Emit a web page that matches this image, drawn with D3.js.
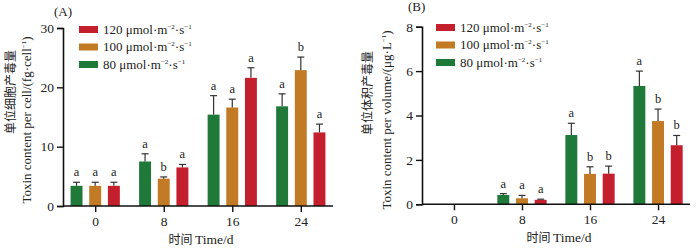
<!DOCTYPE html>
<html>
<head>
  <meta charset="utf-8">
  <script src="https://d3js.org/d3.v7.min.js"></script>
  <style>
    body { margin: 0; background: #fff; }
    text { font-family: "Liberation Serif", "Noto Sans CJK SC", serif; fill: #222; }
    .cjk { font-family: "Noto Sans CJK SC", sans-serif; }
  </style>
</head>
<body>
  <div id="chart"></div>
  <script>
    const days = ["0", "8", "16", "24"];
    const series = ["80", "100", "120"];
    const colors = ["#1f7a3a", "#c27a24", "#c41f2c"];

    // panel A: toxin content per cell (fg/cell)
    const cellMean = {
      "80":  [3.4, 7.5, 15.4, 16.8],
      "100": [3.4, 4.6, 16.6, 22.9],
      "120": [3.4, 6.5, 21.6, 12.4]
    };
    const cellErr = {
      "80":  [0.6, 1.3, 3.2, 2.1],
      "100": [0.6, 0.3, 1.4, 2.2],
      "120": [0.6, 0.5, 1.7, 1.4]
    };
    const cellLetters = {
      "80":  ["a", "a", "a", "a"],
      "100": ["a", "b", "a", "b"],
      "120": ["a", "a", "a", "a"]
    };

    // panel B: toxin content per volume (ug/L)
    const volMean = {
      "80":  [0, 0.42, 3.12, 5.33],
      "100": [0, 0.27, 1.37, 3.75],
      "120": [0, 0.20, 1.38, 2.66]
    };
    const volErr = {
      "80":  [0, 0.06, 0.53, 0.67],
      "100": [0, 0.13, 0.32, 0.54],
      "120": [0, 0.03, 0.34, 0.44]
    };
    const volLetters = {
      "80":  ["", "a", "a", "a"],
      "100": ["", "a", "b", "b"],
      "120": ["", "a", "b", "b"]
    };

    const svg = d3.select("#chart").append("svg")
      .attr("width", 700).attr("height", 249);

    function drawPanel(p) {
      const g = svg.append("g");

      const x = d3.scalePoint().domain(days).range([p.x0, p.x1]).padding(0.47);
      const xs = d3.scaleBand().domain(series).range([-28, 28])
        .paddingInner(0.36).paddingOuter(0.18);
      const y = d3.scaleLinear().domain([0, p.max]).range([p.y0, p.y1]);

      series.forEach((s, si) => {
        const rows = days.map((d, i) => ({ d, v: p.mean[s][i], e: p.err[s][i], l: p.letters[s][i] }));

        g.selectAll(null).data(rows.filter(r => r.v > 0)).enter().append("rect")
          .attr("x", r => x(r.d) + xs(s))
          .attr("width", xs.bandwidth())
          .attr("y", r => y(r.v))
          .attr("height", r => y(0) - y(r.v))
          .attr("fill", colors[si]);

        const eb = g.selectAll(null).data(rows.filter(r => r.e > 0)).enter().append("g")
          .attr("stroke", "#333").attr("stroke-width", 1.2);
        eb.append("line")
          .attr("x1", r => x(r.d) + xs(s) + xs.bandwidth() / 2)
          .attr("x2", r => x(r.d) + xs(s) + xs.bandwidth() / 2)
          .attr("y1", r => y(r.v))
          .attr("y2", r => y(r.v + r.e));
        eb.append("line")
          .attr("x1", r => x(r.d) + xs(s) + xs.bandwidth() / 2 - 3.5)
          .attr("x2", r => x(r.d) + xs(s) + xs.bandwidth() / 2 + 3.5)
          .attr("y1", r => y(r.v + r.e))
          .attr("y2", r => y(r.v + r.e));

        g.selectAll(null).data(rows.filter(r => r.l)).enter().append("text")
          .attr("x", r => x(r.d) + xs(s) + xs.bandwidth() / 2)
          .attr("y", r => y(r.v + r.e) - 6)
          .attr("text-anchor", "middle")
          .attr("font-size", 12.5)
          .text(r => r.l);
      });

      // axes
      const ya = g.append("g").attr("transform", `translate(${p.x0},0)`)
        .call(d3.axisLeft(y).ticks(p.ticks).tickSize(6).tickPadding(3));
      const xa = g.append("g").attr("transform", `translate(0,${p.y0})`)
        .call(d3.axisBottom(x).tickSize(6).tickPadding(4));
      [ya, xa].forEach(a => {
        a.select(".domain").attr("stroke", "#111").attr("stroke-width", 1.6);
        a.selectAll(".tick line").attr("stroke", "#111").attr("stroke-width", 1.4);
        a.selectAll(".tick text").attr("font-size", 13.5).attr("fill", "#222")
          .attr("font-family", "Liberation Serif");
      });
      xa.select(".domain").attr("d", `M${p.x0},0H${p.x1}`);

      // legend
      const lg = g.append("g").attr("transform", `translate(${p.lx},${p.ly})`);
      series.slice().reverse().forEach((s, i) => {
        const ci = series.indexOf(s);
        const row = lg.append("g").attr("transform", `translate(0,${i * 17.5})`);
        row.append("rect").attr("x", 0).attr("y", -3).attr("width", 19).attr("height", 7)
          .attr("fill", colors[ci]);
        const t = row.append("text").attr("x", 24).attr("y", 4.5).attr("font-size", 13);
        t.append("tspan").text(`${s} μmol·m`);
        t.append("tspan").attr("font-size", 7).attr("dy", -5).text("−2");
        t.append("tspan").attr("dy", 5).text("·s");
        t.append("tspan").attr("font-size", 7).attr("dy", -5).text("−1");
      });

      // panel label
      g.append("text").attr("x", p.tx).attr("y", p.ty).attr("font-size", 13).text(p.tag);

      // y labels
      g.append("text").attr("class", "cjk")
        .attr("transform", `translate(${p.cnX},${p.cnY}) rotate(-90)`)
        .attr("text-anchor", "middle").attr("font-size", 12).text(p.cn);
      const en = g.append("text")
        .attr("transform", `translate(${p.enX},${p.enY}) rotate(-90)`)
        .attr("text-anchor", "middle").attr("font-size", 13);
      en.append("tspan").text(p.en);
      en.append("tspan").attr("font-size", 7).attr("dy", -5).text("−1");
      en.append("tspan").attr("dy", 5).text(")");

      // x label
      const xl = g.append("text").attr("x", (p.x0 + p.x1) / 2 + 3).attr("y", p.y0 + 38)
        .attr("text-anchor", "middle").attr("font-size", 13.5);
      xl.append("tspan").attr("class", "cjk").attr("font-size", 12).text("时间 ");
      xl.append("tspan").text("Time/d");
    }

    drawPanel({
      x0: 63, x1: 333, y0: 206, y1: 28, max: 30, ticks: 3,
      mean: cellMean, err: cellErr, letters: cellLetters,
      lx: 79, ly: 29, tag: "(A)", tx: 54, ty: 16,
      cn: "单位细胞产毒量", cnX: 15, cnY: 92,
      en: "Toxin content per cell/(fg·cell", enX: 31, enY: 120
    });

    drawPanel({
      x0: 422, x1: 690, y0: 204.3, y1: 26.7, max: 8, ticks: 4,
      mean: volMean, err: volErr, letters: volLetters,
      lx: 436, ly: 27, tag: "(B)", tx: 408, ty: 11,
      cn: "单位体积产毒量", cnX: 372, cnY: 93,
      en: "Toxin content per volume/(μg·L", enX: 391, enY: 120
    });
  </script>
</body>
</html>
